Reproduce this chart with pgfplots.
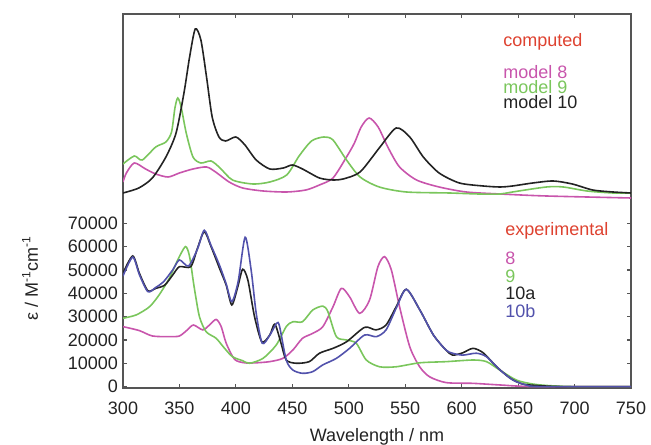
\documentclass[border=0pt]{standalone}
\usepackage{fontspec}
\setmainfont{Liberation Sans}
\usepackage{pgfplots}
\usepackage{pgfplotstable}
\pgfplotsset{compat=1.18}

\definecolor{labred}{RGB}{222,66,48}
\definecolor{mag}{RGB}{200,85,172}
\definecolor{grn}{RGB}{122,198,92}
\definecolor{blk}{RGB}{35,35,35}
\definecolor{blu}{RGB}{82,82,172}
\definecolor{framec}{RGB}{85,85,85}

% experimental, epsilon in M^-1 cm^-1
\pgfplotstableread{
nm eps
300 25700
314.5 24000
326 21700
341 21400
350 21700
357 24300
362.4 26400
370.7 24300
376.6 26400
382.5 28800
387 25700
391.4 18600
398.8 11700
407.6 10200
418 10200
430 10700
441.6 12100
450.5 15700
459 20700
468 22800
477 25700
486 34200
493.4 42100
500.7 38500
509.6 31400
518.4 37100
525.8 51400
531.7 55700
537.7 50000
545 34200
554 17100
562.8 8500
571.6 4200
586.4 1700
610 1400
634 700
664 0
750 0
}\expeight

\pgfplotstableread{
nm eps
300 29300
311.6 30700
323.4 34200
332 39300
341 46400
348.5 54300
355.3 60000
359 55700
363 42800
367.7 30000
373.7 23500
382.5 20700
390 16400
397 12800
406 11100
412 10000
424 12100
435.7 17800
444.6 25700
450.5 27800
459 27800
468 32800
477 34500
481.5 32100
489 21400
497.8 20000
506.6 18600
515.5 11400
527.3 8500
542 8500
562.8 10200
586.4 10700
610 11400
622 10700
633.7 7100
648.5 2800
663 1100
678 400
700 0
750 0
}\expnine

\pgfplotstableread{
nm eps
300 48600
308.6 56000
314.5 48600
322 41100
329 42100
337 43500
344 47800
350 51400
360 51400
366 59300
372 66400
378 60000
385.5 50700
391.4 43500
396.4 35000
401.7 42800
406 50300
410.6 45700
416.5 30000
423 19200
430 22100
434.5 26800
440 18600
444.6 11400
453.5 10000
465 10700
474 14300
486 16400
498 19200
514 25400
524 24300
533 26400
542 34200
551 41700
563 32800
575 22100
586 15700
592 13500
601 14500
610 16400
619 14500
631 8500
643 3600
654 1100
669 400
690 0
750 0
}\exptena

\pgfplotstableread{
nm eps
300 47400
308.6 55500
314.5 48000
322 40700
329 42500
336 45000
344 50000
350 54300
358 51700
366 59000
372 67000
378 60500
385.5 52000
391.4 44000
396.4 36400
402 45000
408.2 64000
413.5 50000
418 31400
423.3 18600
430 22000
436 27100
438.6 26000
444.6 11400
450.5 7100
459 5700
468 6400
477 9300
489 12100
500.7 16400
514 22100
524.4 21400
533 24300
542 33600
551 41700
563 32800
575 22100
586 15700
592 14300
601 13500
613 14300
622 12800
634 7100
645.5 2800
657 700
670 0
750 0
}\exptenb

% computed, relative intensity (arbitrary units)
\pgfplotstableread{
nm c
300 18
303 27
310 37
320 31
329 26
340 23
350 27
362 31
374 33
382 28
394 18
406 12
424 9
445 8
462 10
474 15
486 22
498 43
505 57
511 73
518 82
526 73
535 52
545 33
560 20
580 13
604 8
634 6
675 4
750 2
}\compeight

\pgfplotstableread{
nm c
300 36
310 44
317 40
329 53
338 58
343 68
346 92
348.5 102
351.5 93
356 67
362 43
369 37
378 39
386 32
397 20
415 16
430 18
445 25
456 44
467 59
478 63
486 60
498 40
510 23
527 13
551 8
589 7
615 6
634 6
645 8
675 13
690 13
711 9
734 7
750 7
}\compnine

\pgfplotstableread{
nm c
300 7
314 12
326 22
338 43
347 67
354 107
359 143
364 171
369 160
374 123
379 83
385 63
391 59
400 63
408 55
418 40
430 31
442 32
450 35
459 31
474 22
486 20
495 21
510 28
527 52
542 72
554 63
566 43
580 27
598 17
619 14
634 13
645 14
663 17
681 19
698 16
716 10
734 8
750 7
}\compten

\pgfplotsset{
  spec/.style={no markers, smooth, tension=0.45, line width=0.8pt},
}
\tikzset{
  txt/.style={font=\fontsize{9}{11}\selectfont, anchor=base west, inner sep=0pt},
}

\begin{document}
\begin{tikzpicture}
\useasboundingbox (-61.5pt,-28pt) rectangle (264pt,194pt);
\begin{axis}[
  scale only axis, width=254pt, height=187pt,
  xmin=300, xmax=750, ymin=-600, ymax=159700,
  xtick={300,350,...,750},
  ytick={0,10000,...,70000},
  scaled y ticks=false,
  /pgf/number format/1000 sep={},
  /pgf/number format/assume math mode=true,
  tick align=inside,
  major tick length=2pt,
  every tick/.style={framec, line width=0.6pt},
  axis line style={framec, line width=0.7pt},
  tick label style={font=\fontsize{9}{11}\selectfont, text=blk},
  xticklabel style={yshift=-3.5pt},
  yticklabel style={xshift=1pt},
  label style={font=\fontsize{9}{11}\selectfont, text=blk},
  xlabel={Wavelength / nm},
  xlabel style={at={(axis description cs:0.5,-0.088)}, anchor=north},
  ylabel={ε / M\textsuperscript{-1}cm\textsuperscript{-1}},
  ylabel style={at={(axis description cs:-0.183,0.294)}, anchor=center},
]
  \addplot[spec, mag] table[x=nm, y=eps] {\expeight};
  \addplot[spec, grn] table[x=nm, y=eps] {\expnine};
  \addplot[spec, blk] table[x=nm, y=eps] {\exptena};
  \addplot[spec, blu] table[x=nm, y=eps] {\exptenb};

  \node[txt, text=labred] at (axis description cs:0.748,0.9126) {computed};
  \node[txt, text=mag] at (axis description cs:0.748,0.828) {model 8};
  \node[txt, text=grn] at (axis description cs:0.748,0.788) {model 9};
  \node[txt, text=blk] at (axis description cs:0.748,0.748) {model 10};

  \node[txt, text=labred] at (axis description cs:0.752,0.409) {experimental};
  \node[txt, text=mag] at (axis description cs:0.752,0.330) {8};
  \node[txt, text=grn] at (axis description cs:0.752,0.2834) {9};
  \node[txt, text=blk] at (axis description cs:0.752,0.2353) {10a};
  \node[txt, text=blu] at (axis description cs:0.752,0.1885) {10b};
\end{axis}

\begin{axis}[
  scale only axis, width=254pt, height=187pt, hide axis,
  xmin=300, xmax=750, ymin=-188, ymax=186,
]
  \addplot[spec, mag] table[x=nm, y=c] {\compeight};
  \addplot[spec, grn] table[x=nm, y=c] {\compnine};
  \addplot[spec, blk] table[x=nm, y=c] {\compten};
\end{axis}
\end{tikzpicture}
\end{document}
